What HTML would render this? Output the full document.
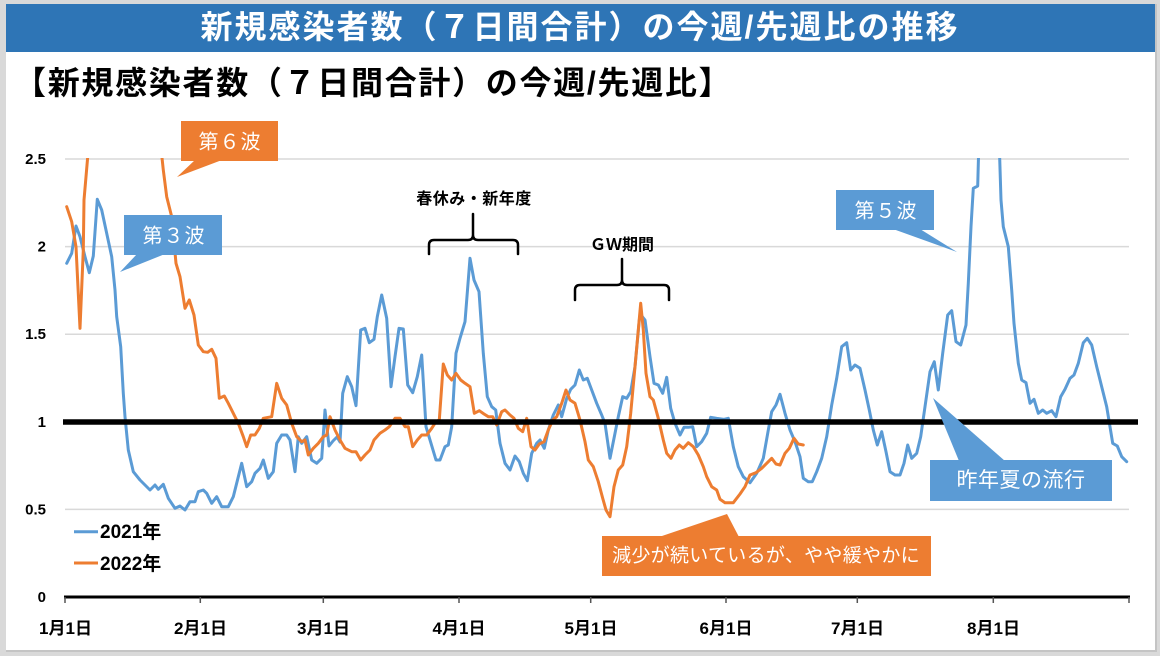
<!DOCTYPE html>
<html>
<head>
<meta charset="utf-8">
<style>
html,body{margin:0;padding:0;background:#d9d9d9;}
body{width:1160px;height:656px;overflow:hidden;}
svg{display:block;}
.cjk{font-family:"Liberation Sans","Noto Sans CJK JP",sans-serif;}
</style>
</head>
<body>
<svg width="1160" height="656" viewBox="0 0 1160 656" xmlns="http://www.w3.org/2000/svg" class="cjk">
  <defs>
    <clipPath id="plot"><rect x="60" y="158" width="1080" height="440"/></clipPath>
  </defs>
  <!-- frame -->
  <rect x="0" y="0" width="1160" height="656" fill="#d9d9d9"/>
  <rect x="6" y="4" width="1149" height="646" fill="#ffffff"/>
  <rect x="1155" y="4" width="2" height="648" fill="#c4c4c4"/>
  <rect x="6" y="650" width="1151" height="2" fill="#c4c4c4"/>
  <!-- title bar -->
  <rect x="6" y="4" width="1149" height="48" fill="#2E75B6"/>
  <text x="580" y="38" font-size="32" font-weight="bold" fill="#ffffff" text-anchor="middle" letter-spacing="2">新規感染者数（７日間合計）の今週/先週比の推移</text>
  <!-- subtitle -->
  <text x="14" y="94" font-size="32" font-weight="bold" fill="#000000" letter-spacing="1.7">【新規感染者数（７日間合計）の今週/先週比】</text>

  <!-- gridlines -->
  <g stroke="#d9d9d9" stroke-width="1.5">
    <line x1="65" y1="159" x2="1129" y2="159"/>
    <line x1="65" y1="246.6" x2="1129" y2="246.6"/>
    <line x1="65" y1="334.2" x2="1129" y2="334.2"/>
    <line x1="65" y1="509.4" x2="1129" y2="509.4"/>
  </g>

  <!-- y labels -->
  <g font-family="Liberation Sans, sans-serif" font-size="15" font-weight="bold" fill="#000" text-anchor="end">
    <text x="46" y="164">2.5</text>
    <text x="46" y="251.6">2</text>
    <text x="46" y="339.2">1.5</text>
    <text x="46" y="426.8">1</text>
    <text x="46" y="514.4">0.5</text>
    <text x="46" y="602">0</text>
  </g>

  <!-- series -->
  <g clip-path="url(#plot)" fill="none" stroke-width="3" stroke-linejoin="round" stroke-linecap="round">
    <polyline stroke="#5B9BD5" points="66.7,263.3 71.7,253.3 76,226 80,236.7 85,256.7 89.3,272.7 93.3,256 97.3,199.3 101.7,210 106.7,233.3 111.7,256.7 115,290 116.7,316.7 120.7,346.7 123.3,393.3 125,416.7 128.3,450 133.3,471.7 140,480 150,490 155,485 158.3,489.3 163.3,484.3 168.3,498.3 175,508.3 180,506 185,510 190,501.7 195,501.7 198.3,491.7 203.3,490 206.7,493.3 211.7,503.3 216.7,496.7 221.7,506.7 228.3,506.7 233.3,496.7 241.7,463.3 246.7,486.7 251.7,481.7 255,473.3 260,468.3 263.3,460 268.3,478.3 273.3,471.7 276.7,443.3 281.7,435 286.7,435 290,440 295,471.7 298.3,436.7 301.7,443.3 306.7,436.7 311.7,460 316.7,463.3 321.7,458.3 325,410 329,446 333,441 337,437 340,442 342.7,393.3 347.3,376.7 351.7,386.7 356,405.7 360.7,330 365,328.3 369.3,342.7 374,339.3 377.3,316.7 381.7,295 386.7,318.3 391,386.7 395,356.7 399,328.3 403.3,329 407.7,385 412.7,392.7 417.3,376.7 421.7,355 426,426.7 431,443.3 436,460 440,460 445,446.7 448.3,445 451.7,426.7 456,353.3 460,338.3 465,321.7 470,258.3 474,280 479,291.7 483.3,353.3 487.3,396.7 491.7,406.7 495.7,410 500,443.3 505,463.3 510,470 515,456 519.3,461.7 523.3,473.3 527.3,480.7 531.7,453.3 536.7,443.3 540,440 544.3,448.3 548.3,430 553.3,415 558.3,405 561.7,416.7 566.7,398.3 570.7,389.3 575,385 579.3,370 583.3,380 587.3,378.3 591.7,390 596.7,403.3 601.7,415 605,423.3 610,458.3 615,433.3 618.3,416.7 622.7,396.7 626.7,398.3 630.7,391.7 635,366.7 639.3,320 641,315 645,320 650,356.7 654,383.3 658.3,385 662.7,393.3 666.7,377.3 670.7,408.3 675,423.3 680,435 684,427.3 688.3,427.3 692.7,426.7 696.7,446.7 701.7,441.7 706.7,433.3 710.7,417.3 716.7,418.3 724,419.3 728.3,418.3 733.3,446.7 738.3,466.7 743.3,476.7 750,482.7 756.7,473.3 763.3,458.3 768.3,430 771.7,411.7 776,405 780,394.3 785,413.3 790,430 795,441.7 800,456.7 803.3,478.3 808.3,481.7 812.3,481.7 816.7,471.7 821.7,458.3 826.7,436.7 831.7,405 836.7,378.3 841.7,346.7 846.7,342.7 850.7,370 855,365 860,368.3 865,390 869.3,410 873.3,430 877.3,445 881.7,431.7 886,451.7 890,471.7 895,475 900,475 904,463.3 907.7,445 911.7,458.3 916.7,453.3 920.7,436.7 925,406.7 930,371.7 934.3,361.7 938.3,390 942.7,353.3 947.7,315 951.7,310.7 956,341.7 960.7,345 966,325 968.3,283.3 971,226.7 973.3,188.3 977.7,186 979.5,120 998.5,120 1001,200 1003.3,226.7 1008.3,246.7 1011.7,290 1014,323.3 1018.3,363.3 1021.7,380 1026,382.7 1030,403.3 1034,399.3 1038.3,413.3 1042.7,410 1046.7,413.3 1051.7,410.7 1056,416.7 1060.7,396.7 1065,389.3 1070,378.3 1074,375 1078.3,363.3 1083.3,342.7 1087.3,338.3 1091.7,345 1096.7,366.7 1101.7,386.7 1106.7,406.7 1110,426.7 1112.7,443.3 1117.3,446 1121.7,456.7 1126.7,461.7"/>
    <polyline stroke="#ED7D31" points="66.7,206.7 71.7,221.7 76,246.7 80,328.3 83.3,250 84,200 88.3,150 92,100 158,100 161.7,155 163.3,170 166.7,196.7 171.7,216.7 176,263.3 180,276.7 185,308.3 189.3,300 194,315 198.3,345 203.3,351.7 207.7,352.3 211.7,349.3 216,358.3 219.3,398.3 224.3,396 228.3,403.3 233.3,413.3 238.3,423.3 243.3,436.7 246.7,446.7 250.7,435 255,435 259.3,428.3 263.3,418.3 271.7,416.7 276.7,383.3 281.7,398.3 286.7,405 291.7,423.3 296.7,436.7 301.7,441.7 305,440 308.3,455 313.3,448.3 318.3,443.3 323.3,436.7 326.7,435 330,416.7 335,430 340,440 345,448.3 351.7,451.7 356,451.7 360.7,460 365,455 370,450 374,440 380,433.3 385,430 389.3,426.7 395,418.3 400,418.3 405,426.7 408.3,426.7 412.7,446.7 417.3,440 421.7,435 426.7,435 431.7,428.3 436,421.7 439.3,420 443.3,364 447.3,375 451.7,380 456,373.3 460.7,380 465,383.3 470,386.7 474.3,413.3 479.3,410.7 484,414 488.3,416.7 492.7,416.7 496.7,425 501.7,411.7 505,410 510,415 514,418.3 518.3,428.3 522.7,431.7 526.7,418.3 531,446.7 535,450 539.3,444 544,441.7 548.3,430 552.7,420 556.7,416.7 561.7,403.3 566,390 570,400 575,403.3 580,420 585,441.7 588.3,460 593.3,466.7 598.3,481.7 602.7,498.3 606,510 610,516.7 614,486.7 618.3,470 622.7,465 626.7,446.7 630.7,413.3 635,366.7 638.3,330 640.7,303.3 643.3,330 646,373.3 650,396.7 653.3,400 658.3,418.3 663.3,440 666.7,453.3 671,458.3 675,450 679.3,445 683.3,448.3 688.3,442.7 693.3,446.7 698.3,455 703.3,466.7 706.7,476.7 711.7,486.7 716.7,490 720,499.3 725,502.7 733.3,502.7 740,494 745,486.7 750,475 756,472.7 761.7,468.3 766.7,463.3 771.7,458.3 776,464 780,465 785,453.3 789.3,448.3 794,438.3 798.3,444 803.3,445"/>
  </g>

  <!-- threshold line at 1 -->
  <line x1="63" y1="422" x2="1138" y2="422" stroke="#000" stroke-width="5.5"/>

  <!-- x axis -->
  <line x1="64" y1="597" x2="1130" y2="597" stroke="#000" stroke-width="3"/>
  <g stroke="#555" stroke-width="1.5">
    <line x1="65" y1="597" x2="65" y2="603"/>
    <line x1="200.3" y1="597" x2="200.3" y2="603"/>
    <line x1="323.3" y1="597" x2="323.3" y2="603"/>
    <line x1="459" y1="597" x2="459" y2="603"/>
    <line x1="590.7" y1="597" x2="590.7" y2="603"/>
    <line x1="726" y1="597" x2="726" y2="603"/>
    <line x1="857.3" y1="597" x2="857.3" y2="603"/>
    <line x1="993.3" y1="597" x2="993.3" y2="603"/>
    <line x1="1129" y1="597" x2="1129" y2="603"/>
  </g>
  <g font-size="17" font-weight="bold" fill="#000" text-anchor="middle">
    <text x="65.5" y="634">1月1日</text>
    <text x="200.5" y="634">2月1日</text>
    <text x="323.5" y="634">3月1日</text>
    <text x="459" y="634">4月1日</text>
    <text x="591" y="634">5月1日</text>
    <text x="726" y="634">6月1日</text>
    <text x="857.5" y="634">7月1日</text>
    <text x="993.5" y="634">8月1日</text>
  </g>

  <!-- legend -->
  <line x1="74" y1="531.7" x2="98" y2="531.7" stroke="#5B9BD5" stroke-width="3"/>
  <line x1="74" y1="563" x2="98" y2="563" stroke="#ED7D31" stroke-width="3"/>
  <text x="100" y="538" font-size="19" font-weight="bold" fill="#000">2021年</text>
  <text x="100" y="570" font-size="19" font-weight="bold" fill="#000">2022年</text>

  <!-- brackets -->
  <g fill="none" stroke="#000" stroke-width="2.5" stroke-linecap="round" stroke-linejoin="round">
    <path d="M429,254 L429,245 Q429,240 434,240 L468,240 Q473,240 473,235 L473,214 M473,235 Q473,240 478,240 L513,240 Q518,240 518,245 L518,254"/>
    <path d="M575,300 L575,290 Q575,285 580,285 L617,285 Q622,285 622,280 L622,259 M622,280 Q622,285 627,285 L664,285 Q669,285 669,290 L669,300"/>
  </g>
  <text x="474" y="204" font-size="16" font-weight="bold" fill="#000" text-anchor="middle" letter-spacing="0.5">春休み・新年度</text>
  <text x="622" y="250" font-size="16" font-weight="bold" fill="#000" text-anchor="middle">ＧＷ期間</text>

  <!-- callouts -->
  <g>
    <rect x="181" y="121" width="97" height="40" fill="#ED7D31"/>
    <polygon points="195,160 222,160 177,177" fill="#ED7D31"/>
    <text x="230" y="148.5" font-size="20" fill="#fff" text-anchor="middle" letter-spacing="1">第６波</text>

    <rect x="124" y="215" width="98" height="40" fill="#5B9BD5"/>
    <polygon points="137,254 165,254 120,272" fill="#5B9BD5"/>
    <text x="174" y="242.5" font-size="20" fill="#fff" text-anchor="middle" letter-spacing="1">第３波</text>

    <rect x="836" y="190" width="98" height="40" fill="#5B9BD5"/>
    <polygon points="893,229 920,229 957,252" fill="#5B9BD5"/>
    <text x="886" y="217.5" font-size="20" fill="#fff" text-anchor="middle" letter-spacing="1">第５波</text>

    <rect x="930" y="460" width="182" height="41" fill="#5B9BD5"/>
    <polygon points="959,461 1005,461 933,398" fill="#5B9BD5"/>
    <text x="1021" y="487" font-size="21" fill="#fff" text-anchor="middle" letter-spacing="0.5">昨年夏の流行</text>

    <rect x="602" y="536" width="329" height="40" fill="#ED7D31"/>
    <polygon points="659,537 739,537 727,514" fill="#ED7D31"/>
    <text x="766" y="561.5" font-size="19" fill="#fff" text-anchor="middle" letter-spacing="0.3">減少が続いているが、やや緩やかに</text>
  </g>
</svg>
</body>
</html>
